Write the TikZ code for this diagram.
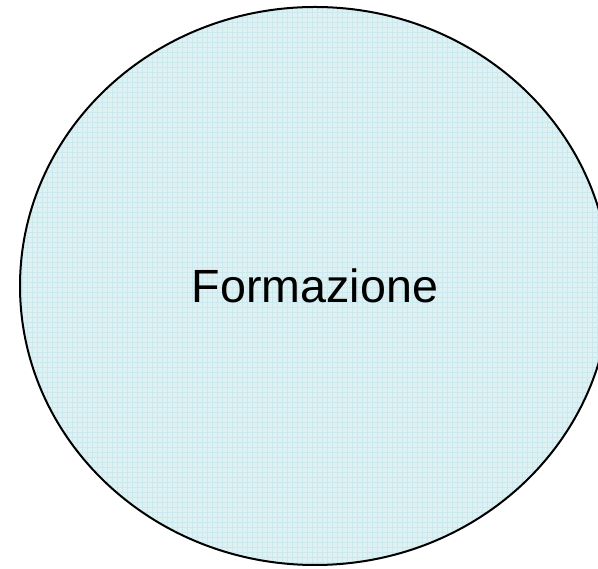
\documentclass[tikz,border=0pt]{standalone}
\usepackage{fontspec}
\setmainfont{Liberation Sans}
\usepackage{tikz}
\usetikzlibrary{shapes.geometric,positioning}
\usepackage{xcolor}
\definecolor{paleblue}{RGB}{222,241,243}
\definecolor{gridblue}{RGB}{202,232,237}

\begin{document}
\begin{tikzpicture}[x=1pt, y=1pt,
    bubble/.style={ellipse, draw=black, line width=2pt, fill=paleblue,
                   minimum width=590pt, minimum height=558pt, inner sep=0pt,
                   font=\fontsize{46.6}{56}\selectfont,
                   path picture={\draw[gridblue, line width=0.4pt, step=5pt]
                       (path picture bounding box.south west) grid
                       (path picture bounding box.north east);}}
]
\useasboundingbox (0,0) rectangle (598,569);
\clip (0,0) rectangle (598,569);
\node[bubble] (form) at (315,283) {Formazione};
\end{tikzpicture}
\end{document}
